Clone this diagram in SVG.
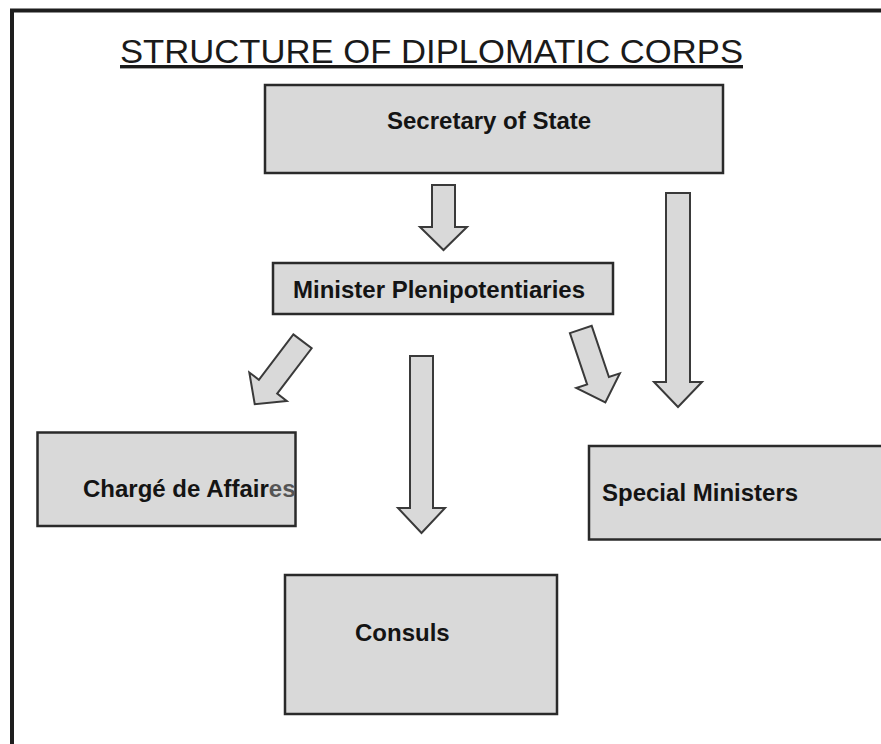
<svg xmlns="http://www.w3.org/2000/svg" width="881" height="744" viewBox="0 0 881 744">
  <style>
    .box { fill: #d9d9d9; stroke: #2a2a2a; stroke-width: 2.5; }
    .lbl { font-family: "Liberation Sans", Arial, sans-serif; font-weight: bold; font-size: 24px; fill: #141414; }
    .title { font-family: "Liberation Sans", Arial, sans-serif; font-size: 34px; fill: #1a1a1a; text-decoration: underline; }
    .arrow { fill: #d9d9d9; stroke: #3a3a3a; stroke-width: 2; stroke-linejoin: miter; }
  </style>
  <rect width="881" height="744" fill="#ffffff"/>
  <path d="M12 744 V10.5 H881" fill="none" stroke="#1e1e1e" stroke-width="4"/>
  <text class="title" x="120" y="63" textLength="623" lengthAdjust="spacingAndGlyphs">STRUCTURE OF DIPLOMATIC CORPS</text>

  <g id="connectors">
    <polygon class="arrow" points="432,185 455,185 455,227 467,227 443.5,250 420,227 432,227"/>
    <polygon class="arrow" points="666,193 690,193 690,382 702,382 678,407 654,382 666,382"/>
    <polygon class="arrow" points="410,356 433,356 433,508 445,508 421.5,533 398,508 410,508"/>
    <polygon class="arrow" transform="translate(580.8,329.5) rotate(-18.6)" points="-11.5,0 11.5,0 11.5,54 23,54 0,77 -23,54 -11.5,54"/>
    <polygon class="arrow" transform="translate(302.5,341.3) rotate(37.2)" points="-11.5,0 11.5,0 11.5,57 23.5,57 0,79 -23.5,57 -11.5,57"/>
  </g>

  <g id="secretary">
    <rect class="box" x="265" y="85" width="458" height="88"/>
    <text class="lbl" x="387" y="129">Secretary of State</text>
  </g>
  <g id="minister">
    <rect class="box" x="273" y="263" width="340" height="51"/>
    <text class="lbl" x="293" y="298">Minister Plenipotentiaries</text>
  </g>
  <g id="charge">
    <rect class="box" x="37.5" y="432.5" width="258" height="93.5"/>
    <text class="lbl" x="83" y="497">Chargé de Affair<tspan fill="#555555">es</tspan></text>
  </g>
  <g id="special">
    <rect class="box" x="589" y="446" width="300" height="93.5"/>
    <text class="lbl" x="602" y="501">Special Ministers</text>
  </g>
  <g id="consuls">
    <rect class="box" x="285" y="575" width="272" height="139"/>
    <text class="lbl" x="355" y="641">Consuls</text>
  </g>
</svg>
